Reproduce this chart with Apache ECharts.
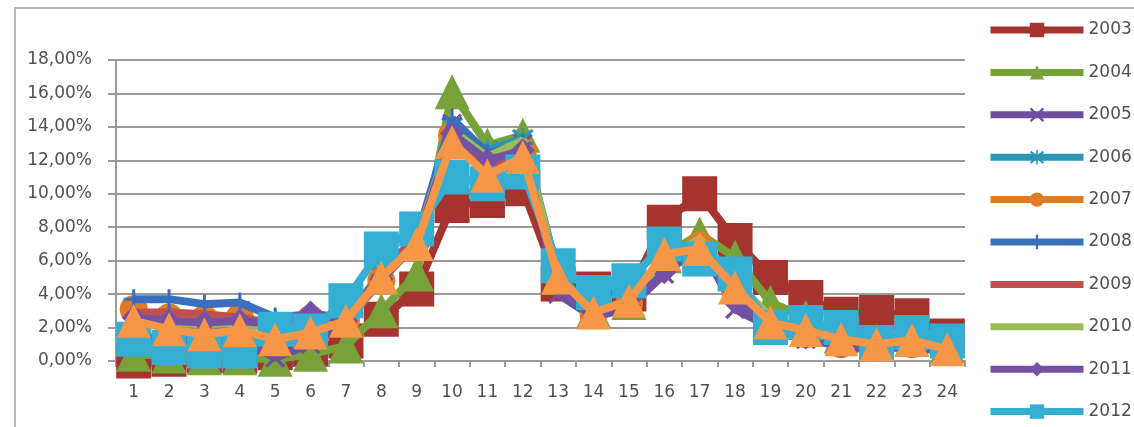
<!DOCTYPE html>
<html>
<head>
<meta charset="utf-8">
<script src="https://cdn.jsdelivr.net/npm/echarts@6/dist/echarts.min.js"></script>
<style>
  html, body { margin: 0; padding: 0; background: #fff; }
  #chart { width: 1134px; height: 427px; }
</style>
</head>
<body>
<div id="chart"></div>
<script>
// Hours of the day (x axis)
const hours = ['1','2','3','4','5','6','7','8','9','10','11','12','13','14','15','16','17','18','19','20','21','22','23','24'];

// Share of daily total per hour, in percent
const y2003 = [0.0, 0.1, 0.3, 0.3, 0.5, 0.7, 1.2, 2.5, 4.3, 9.3, 9.6, 10.3, 4.6, 4.3, 4.0, 8.3, 10.0, 7.2, 5.0, 3.8, 2.8, 2.9, 2.7, 1.5];
const y2004 = [0.4, 0.3, 0.2, 0.2, 0.1, 0.4, 0.9, 3.0, 5.2, 16.1, 12.9, 13.5, 5.0, 3.0, 3.5, 6.3, 7.6, 6.2, 3.5, 2.6, 1.5, 1.2, 1.3, 0.9];
const y2005 = [1.5, 1.3, 1.2, 1.2, 0.2, 1.0, 2.2, 5.0, 7.0, 14.2, 12.3, 13.0, 4.0, 2.6, 3.2, 5.2, 7.0, 3.1, 2.0, 1.3, 0.9, 0.7, 0.9, 0.5];
const y2006 = [2.4, 2.2, 2.1, 2.2, 2.0, 2.2, 2.5, 5.3, 7.3, 14.0, 12.6, 13.3, 5.2, 3.0, 3.6, 6.0, 6.8, 4.3, 2.4, 1.8, 1.2, 0.9, 1.1, 0.7];
const y2007 = [3.1, 2.6, 2.5, 2.6, 2.0, 2.5, 2.4, 4.8, 7.2, 13.5, 11.8, 12.5, 5.0, 2.8, 3.4, 6.2, 6.9, 4.2, 2.3, 1.6, 1.0, 0.8, 1.0, 0.6];
const y2008 = [3.7, 3.7, 3.4, 3.5, 2.6, 2.8, 2.6, 5.1, 7.3, 14.5, 12.4, 13.0, 4.8, 2.7, 3.3, 5.6, 6.8, 3.9, 2.2, 1.5, 1.0, 0.8, 1.0, 0.6];
const y2009 = [2.9, 2.9, 2.8, 2.6, 2.2, 2.4, 2.3, 5.2, 7.5, 13.2, 11.5, 12.2, 4.9, 2.8, 3.4, 6.0, 6.9, 4.1, 2.3, 1.6, 1.1, 0.9, 1.0, 0.7];
const y2010 = [2.5, 2.3, 2.2, 2.3, 1.9, 2.1, 2.2, 5.0, 7.1, 13.8, 12.2, 13.2, 5.1, 2.9, 3.5, 6.1, 7.3, 4.8, 2.6, 1.8, 1.1, 0.9, 1.1, 0.7];
const y2011 = [2.6, 2.4, 2.3, 2.4, 2.2, 2.9, 2.4, 4.9, 7.0, 13.6, 12.0, 12.6, 4.4, 2.6, 3.3, 5.3, 6.7, 3.5, 2.1, 1.4, 0.9, 0.7, 0.9, 0.5];
const y2012 = [1.3, 0.8, 0.6, 0.6, 1.9, 1.8, 3.6, 6.7, 7.9, 11.0, 10.6, 11.3, 5.7, 4.1, 4.8, 7.0, 6.1, 5.2, 2.0, 2.3, 2.0, 1.1, 1.7, 1.2];
const y2013 = [2.4, 1.9, 1.6, 1.85, 1.3, 1.7, 2.4, 5.0, 7.0, 13.1, 11.1, 12.2, 5.0, 2.9, 3.6, 6.4, 6.7, 4.4, 2.3, 1.85, 1.3, 1.0, 1.25, 0.7];

// Y axis ticks (percent)
const yTicks = { min: 0, max: 18, step: 2 };

// Marker shapes
const PLUS = 'path://M0,8.5L20,8.5L20,11.5L0,11.5Z M8.5,0L11.5,0L11.5,20L8.5,20Z';
const CROSS = 'path://M1,3L3,1L10,8L17,1L19,3L12,10L19,17L17,19L10,12L3,19L1,17L8,10Z';
const STAR = CROSS + ' M9,0L11,0L11,20L9,20Z';
const BAR = 'path://M0,0L93,0L93,7L0,7Z';

const seriesDefs = [
  { name: '2003', data: y2003, color: '#A5342F', symbol: 'rect', size: [35, 35] },
  { name: '2004', data: y2004, color: '#77A23A', symbol: 'triangle', size: [35, 35] },
  { name: '2005', data: y2005, color: '#6F4E9E', symbol: CROSS, size: [20, 20] },
  { name: '2006', data: y2006, color: '#2A97B4', symbol: STAR, size: [22, 22] },
  { name: '2007', data: y2007, color: '#E07B25', symbol: 'circle', size: [28, 28] },
  { name: '2008', data: y2008, color: '#3A6FBF', symbol: PLUS, size: [20, 20] },
  { name: '2009', data: y2009, color: '#C0504D', symbol: 'none', size: [0, 0] },
  { name: '2010', data: y2010, color: '#9BBB59', symbol: 'none', size: [0, 0] },
  { name: '2011', data: y2011, color: '#7551A6', symbol: 'diamond', size: [24, 24] },
  { name: '2012', data: y2012, color: '#35AED4', symbol: 'rect', size: [35, 35] },
  { name: '2013', data: y2013, color: '#F79646', symbol: 'triangle', size: [34, 34] }
];

const FONT = 'DejaVu Sans';
const TEXT = '#505050';
const GRID = '#9a9a9a';

const chart = echarts.init(document.getElementById('chart'), null, { renderer: 'canvas' });

chart.setOption({
  animation: false,
  backgroundColor: '#fff',
  graphic: [{
    type: 'rect',
    shape: { x: 15, y: 8, width: 1300, height: 600 },
    style: { fill: 'none', stroke: '#b4b4b4', lineWidth: 2 },
    z: 0
  }],
  grid: { left: 116, right: 169, top: 60, bottom: 66 },
  legend: {
    orient: 'vertical',
    left: 987,
    top: 21,
    padding: 0,
    itemWidth: 93,
    itemHeight: 18,
    itemGap: 24.4,
    lineStyle: { width: 7 },
    textStyle: { fontFamily: FONT, fontSize: 17, lineHeight: 18, color: TEXT },
    data: seriesDefs.slice(0, 10).map(s => (
      s.symbol === 'none' ? { name: s.name, icon: BAR } : { name: s.name }
    ))
  },
  xAxis: {
    type: 'category',
    data: hours,
    boundaryGap: true,
    axisLine: { show: true, lineStyle: { color: GRID, width: 2 } },
    axisTick: { show: true, interval: 0, length: 6, lineStyle: { color: GRID, width: 2 } },
    axisLabel: { interval: 0, margin: 23, fontFamily: FONT, fontSize: 17, color: TEXT }
  },
  yAxis: {
    type: 'value',
    min: yTicks.min,
    max: yTicks.max,
    interval: yTicks.step,
    axisLine: { show: true, lineStyle: { color: GRID, width: 2 } },
    axisTick: { show: true, length: 8, lineStyle: { color: GRID, width: 2 } },
    splitLine: { show: true, lineStyle: { color: GRID, width: 2 } },
    axisLabel: {
      margin: 24,
      fontFamily: FONT, fontSize: 17, color: TEXT,
      formatter: v => v.toFixed(2).replace('.', ',') + '%'
    }
  },
  series: seriesDefs.map((s, i) => ({
    name: s.name,
    type: 'line',
    data: s.data,
    z: 3 + i,
    clip: false,
    symbol: s.symbol,
    symbolSize: s.size,
    showSymbol: s.symbol !== 'none',
    lineStyle: { color: s.color, width: 8 },
    itemStyle: { color: s.color },
    emphasis: { disabled: true }
  }))
});
</script>
</body>
</html>
